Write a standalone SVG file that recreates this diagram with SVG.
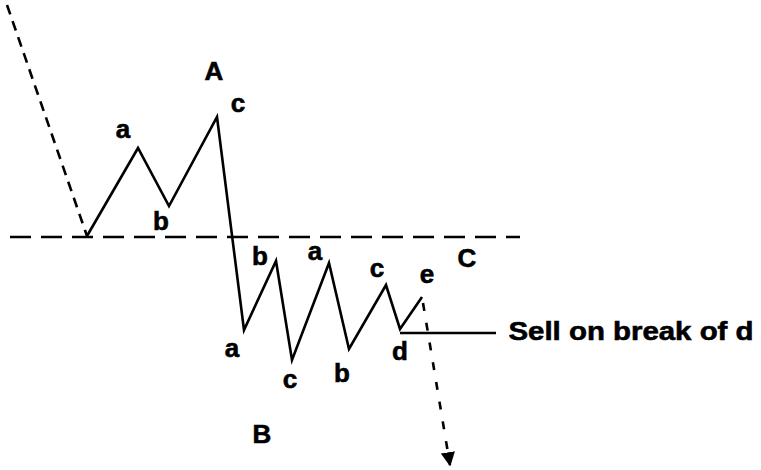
<svg xmlns="http://www.w3.org/2000/svg" width="761" height="470" viewBox="0 0 761 470">
<defs>
<style>
.t{font-family:"Liberation Sans",Arial,sans-serif;font-weight:bold;font-size:26px;fill:#000;stroke:#000;stroke-width:0.6;text-anchor:middle}
.s{fill:none;stroke:#000;stroke-width:2.6;stroke-linejoin:miter;stroke-linecap:butt}
.d{fill:none;stroke:#000;stroke-width:2.6}
</style>
<marker id="ah" viewBox="0 0 10 10" refX="9" refY="5" markerWidth="5.5" markerHeight="5.5" orient="auto" markerUnits="strokeWidth">
<path d="M0,0 L10,5 L0,10 z" fill="#000"/>
</marker>
</defs>
<rect width="761" height="470" fill="#fff"/>
<g id="connectors">
<line class="d" x1="7" y1="5" x2="87" y2="236" stroke-dasharray="10,7"/>
<line class="d" x1="10" y1="237" x2="520" y2="237" stroke-dasharray="21,10"/>
<polyline class="s" points="87,236 138,148 169,206 217,117 244,330 276,261 292,360 329,263 349,349 386,285 400,329 422,297"/>
<line class="s" x1="400" y1="333" x2="496" y2="333"/>
<line class="d" x1="423" y1="303" x2="450" y2="465" stroke-dasharray="8,12" marker-end="url(#ah)"/>
</g>
<g id="labels">
<text class="t" x="214" y="80">A</text>
<text class="t" x="238" y="112">c</text>
<text class="t" x="123" y="138">a</text>
<text class="t" x="161" y="230">b</text>
<text class="t" x="260" y="265">b</text>
<text class="t" x="315" y="260">a</text>
<text class="t" x="377" y="277">c</text>
<text class="t" x="427" y="283">e</text>
<text class="t" x="467" y="267">C</text>
<text class="t" x="232" y="357">a</text>
<text class="t" x="290" y="388">c</text>
<text class="t" x="342" y="382">b</text>
<text class="t" x="400" y="360">d</text>
<text class="t" x="262" y="443">B</text>
<text class="t" x="631" y="340" font-size="24" textLength="245" lengthAdjust="spacingAndGlyphs">Sell on break of d</text>
</g>
</svg>
